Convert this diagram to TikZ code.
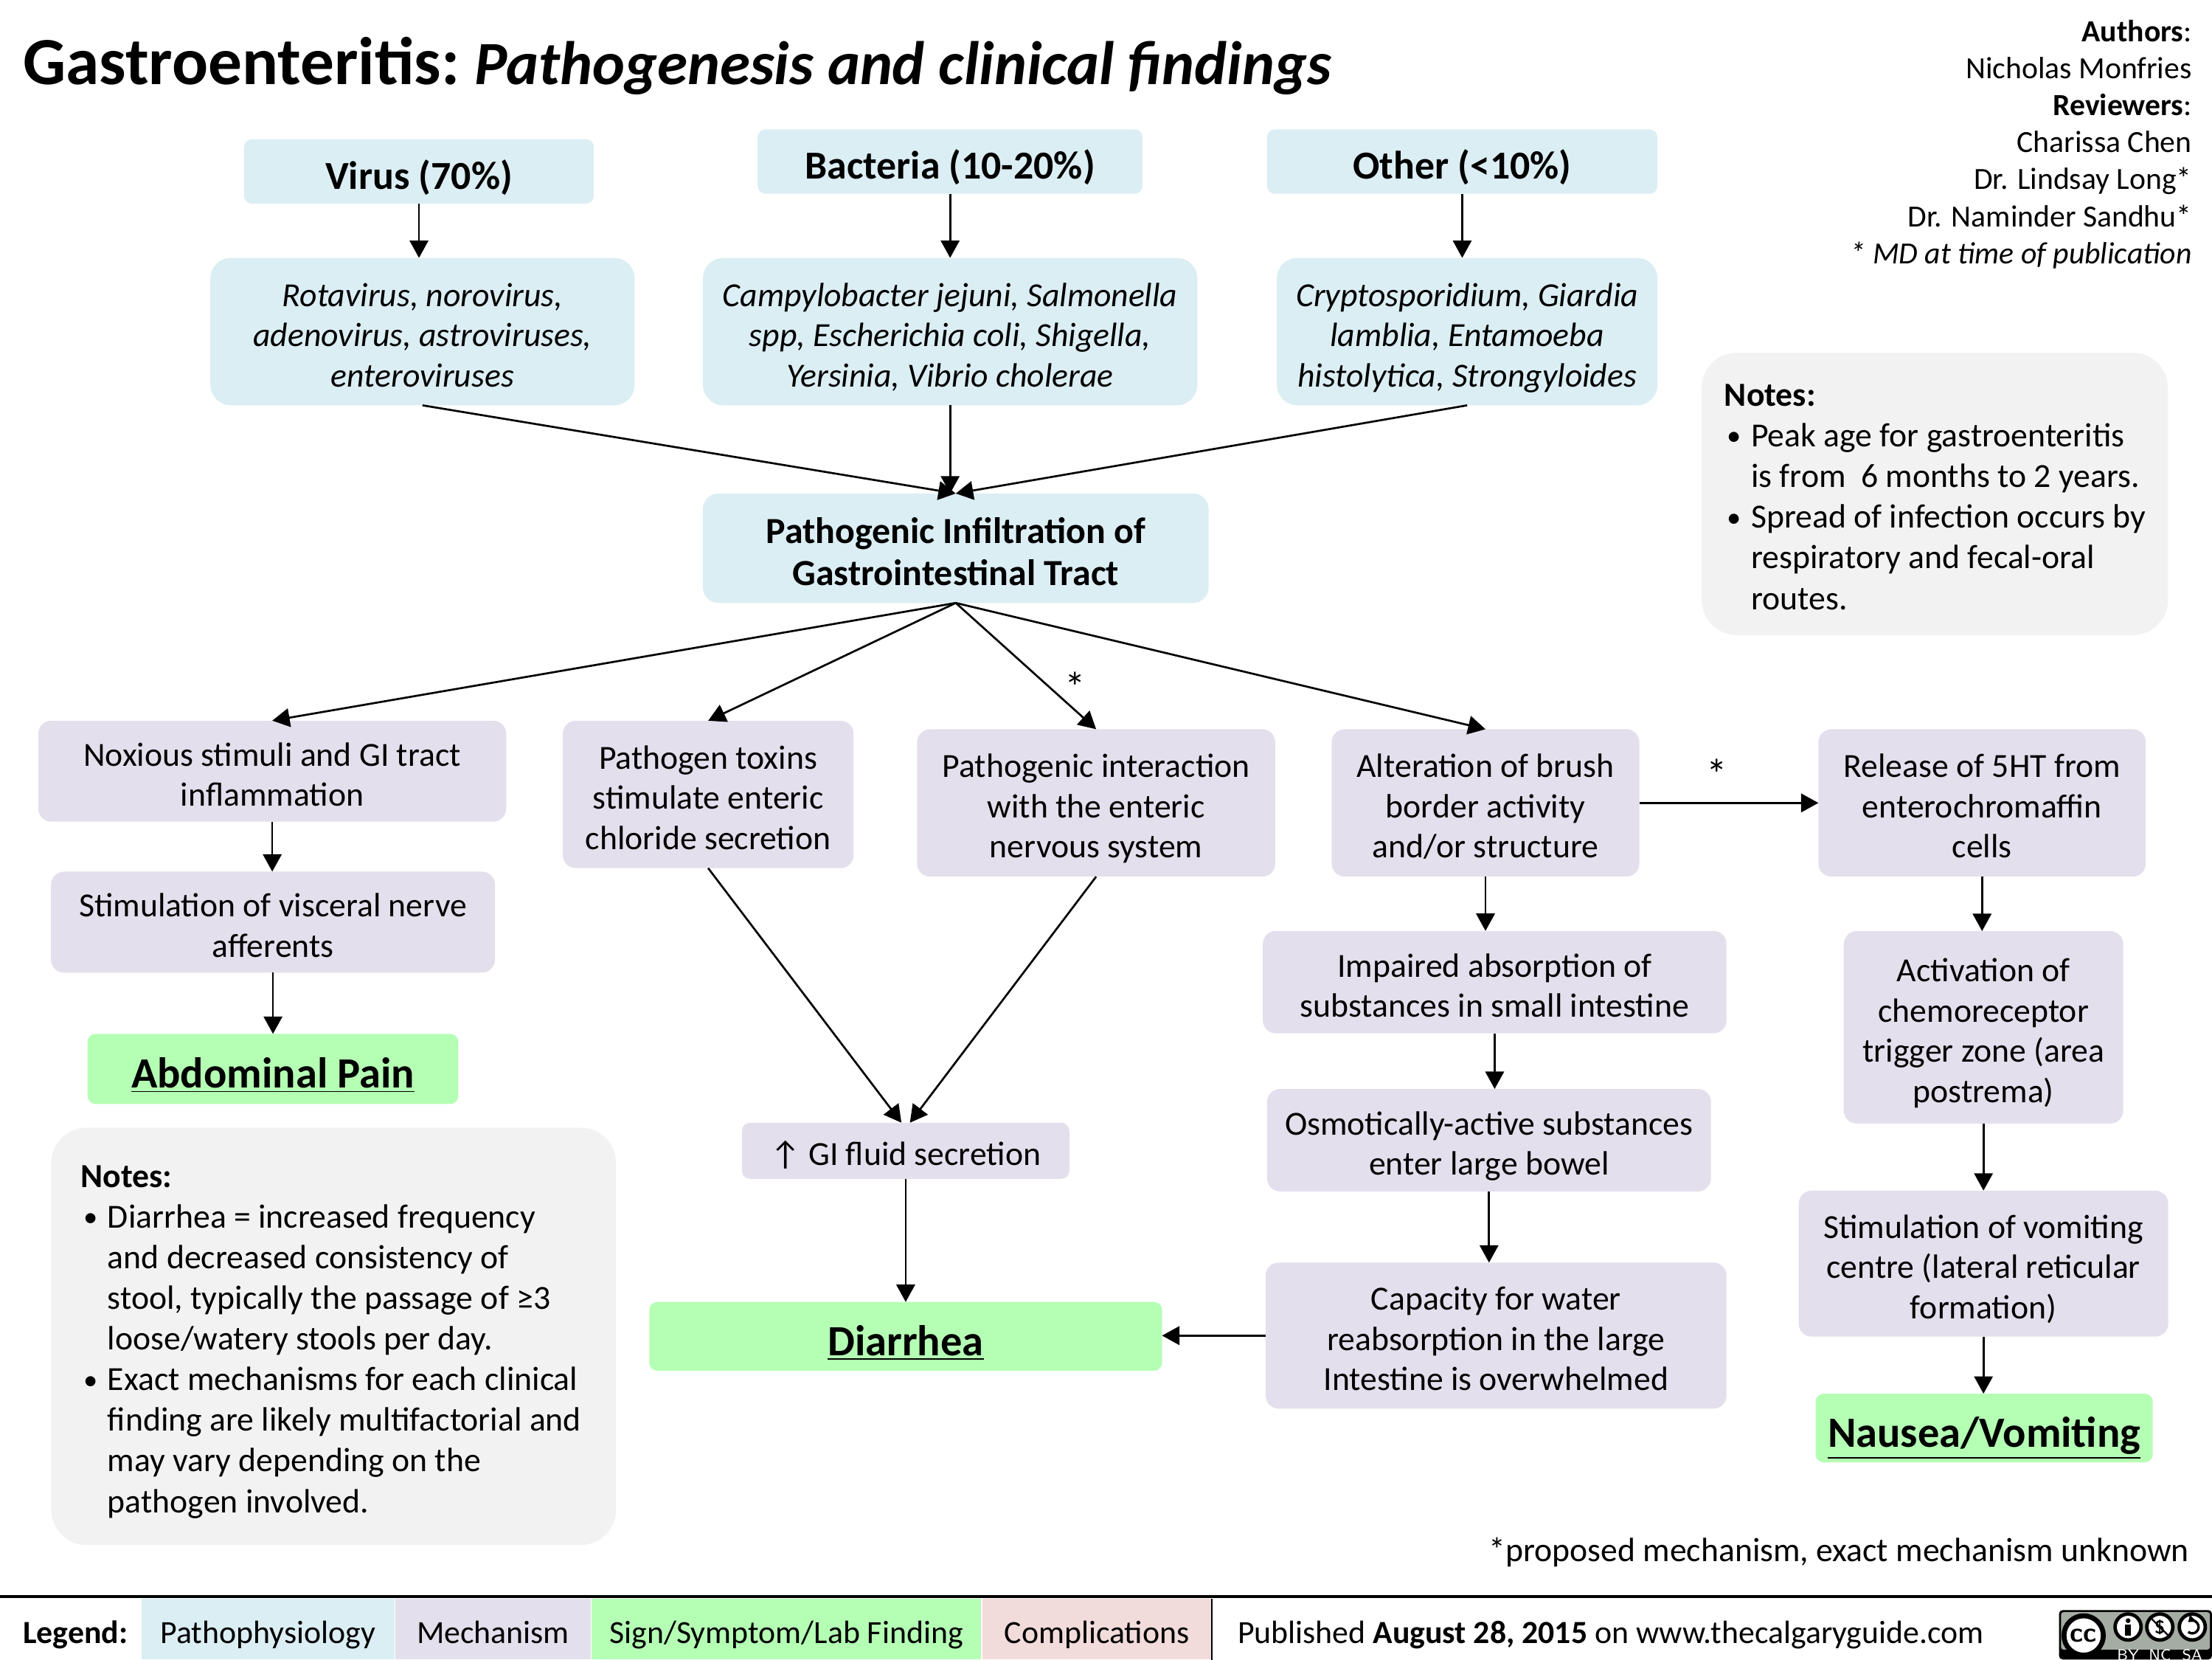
\documentclass[tikz,border=0pt]{standalone}
\usepackage{fontspec}
\setmainfont{Carlito}
\usetikzlibrary{arrows.meta,calc}

\definecolor{pathoblue}{HTML}{DBEEF4}
\definecolor{mechpurple}{HTML}{E4DFEC}
\definecolor{signgreen}{HTML}{B5FFB5}
\definecolor{compink}{HTML}{F2DCDB}
\definecolor{notegray}{HTML}{F2F2F2}
\definecolor{badgegray}{HTML}{A5ACA3}

\newcommand{\noteitem}{\makebox[10.8pt][l]{\hspace{1pt}\raisebox{0.5pt}{\fontsize{11.5}{11.5}\selectfont •}}}
\newcommand{\noteline}{\hspace*{10.8pt}}
\newcommand{\lift}{\rule{0pt}{0.88em}}

\tikzset{
  boxbase/.style={rounded corners=5pt, align=center, inner sep=0pt, line width=0.5pt, text depth=0pt, font=\fontsize{13.6}{16.2}\selectfont},
  mechbox/.style={boxbase, draw=mechpurple, fill=mechpurple},
  signbox/.style={boxbase, draw=signgreen, fill=signgreen, rounded corners=3pt, font=\fontsize{17.4}{20}\selectfont\bfseries},
  headbox/.style={boxbase, draw=pathoblue, fill=pathoblue, rounded corners=3pt, font=\fontsize{16}{19}\selectfont\bfseries},
  listbox/.style={boxbase, draw=pathoblue, fill=pathoblue, rounded corners=8pt, font=\fontsize{13.6}{16.2}\selectfont\itshape},
  infilbox/.style={boxbase, draw=pathoblue, fill=pathoblue, rounded corners=6pt, font=\fontsize{14.85}{17}\selectfont\bfseries},
  notebox/.style={draw=notegray, line width=0.5pt, fill=notegray, rounded corners=14pt, inner sep=0pt},
  legendbox/.style={inner sep=0pt, text depth=0pt, font=\fontsize{13.03}{16}\selectfont},
  plaintext/.style={inner sep=0pt, font=\fontsize{13.6}{16.4}\selectfont},
  badgering/.style={circle, draw=black, fill=white, line width=1.4pt, inner sep=0pt, minimum size=10.5pt, font=\fontsize{6.5}{6.5}\selectfont\bfseries\sffamily},
  badgetext/.style={text=white, inner sep=0pt, font=\fontsize{6.2}{6.2}\selectfont\sffamily},
  flowarrow/.style={-{Triangle[length=7pt,width=7.5pt]}, line width=0.8pt},
}

\begin{document}
\begin{tikzpicture}[x=0.02cm,y=-0.02cm]
  \useasboundingbox (0,0) rectangle (1568,1176);

  % title and credits
  \node[plaintext, anchor=base west, font=\fontsize{27.2}{30}\selectfont] (title) at (16,60) {\textbf{Gastroenteritis:}\hspace{6pt}{\fontsize{24.8}{30}\selectfont\textbf{\textit{Pathogenesis and clinical findings}}}};
  \node[plaintext, anchor=north east, align=right, font=\fontsize{12.4}{14.9}\selectfont] (credits) at (1554,14) {\textbf{Authors}:\\Nicholas Monfries\\\textbf{Reviewers}:\\Charissa Chen\\Dr. Lindsay Long*\\Dr. Naminder Sandhu*\\\textit{* MD at time of publication}};

  % causes
  \node[headbox, minimum width=248*0.567pt, minimum height=45*0.567pt] (virus) at (297,121.5) {\lift Virus (70\%)};
  \node[headbox, minimum width=273*0.567pt, minimum height=45*0.567pt] (bacteria) at (673.5,114.5) {\lift Bacteria (10-20\%)};
  \node[headbox, minimum width=277*0.567pt, minimum height=45*0.567pt] (other) at (1036.5,114.5) {\lift Other (<10\%)};
  \node[listbox, minimum width=301*0.567pt, minimum height=104*0.567pt] (viruslist) at (299.5,235) {\lift Rotavirus, norovirus,\\adenovirus, astroviruses,\\enteroviruses};
  \node[listbox, minimum width=351*0.567pt, minimum height=104*0.567pt] (bacterialist) at (673.5,235) {\lift Campylobacter jejuni, Salmonella\\spp, Escherichia coli, Shigella,\\Yersinia, Vibrio cholerae};
  \node[listbox, minimum width=270*0.567pt, minimum height=104*0.567pt] (otherlist) at (1040,235) {\lift Cryptosporidium, Giardia\\lamblia, Entamoeba\\histolytica, Strongyloides};
  \node[infilbox, minimum width=359*0.567pt, minimum height=77*0.567pt] (infiltration) at (677.5,388.5) {\lift Pathogenic Infiltration of\\Gastrointestinal Tract};

  % left column
  \node[mechbox, minimum width=332*0.567pt, minimum height=71*0.567pt] (noxious) at (193,546.5) {\lift Noxious stimuli and GI tract\\inflammation};
  \node[mechbox, minimum width=315*0.567pt, minimum height=71*0.567pt] (visceral) at (193.5,653.5) {\lift Stimulation of visceral nerve\\afferents};
  \node[signbox, minimum width=263*0.567pt, minimum height=49*0.567pt] (pain) at (193.5,757.5) {\lift\underline{Abdominal Pain}};

  % middle columns
  \node[mechbox, minimum width=206*0.567pt, minimum height=104*0.567pt] (toxins) at (502,563) {\lift Pathogen toxins\\stimulate enteric\\chloride secretion};
  \node[mechbox, minimum width=254*0.567pt, minimum height=104*0.567pt] (interaction) at (777,569) {\lift Pathogenic interaction\\with the enteric\\nervous system};
  \node[mechbox, rounded corners=3pt, minimum width=232*0.567pt, minimum height=39*0.567pt] (secretion) at (642,815.5) {\lift ↑ GI fluid secretion};
  \node[signbox, minimum width=364*0.567pt, minimum height=48*0.567pt] (diarrhea) at (642,947) {\lift\underline{Diarrhea}};

  % brush border column
  \node[mechbox, minimum width=218*0.567pt, minimum height=104*0.567pt] (brush) at (1053,569) {\lift Alteration of brush\\border activity\\and/or structure};
  \node[mechbox, minimum width=329*0.567pt, minimum height=72*0.567pt] (impaired) at (1059.5,696) {\lift Impaired absorption of\\substances in small intestine};
  \node[mechbox, minimum width=315*0.567pt, minimum height=72*0.567pt] (osmotic) at (1055.5,808) {\lift Osmotically-active substances\\enter large bowel};
  \node[mechbox, minimum width=327*0.567pt, minimum height=103*0.567pt] (capacity) at (1060.5,946.5) {\lift Capacity for water\\reabsorption in the large\\Intestine is overwhelmed};

  % vomiting column
  \node[mechbox, minimum width=232*0.567pt, minimum height=104*0.567pt] (release) at (1405,569) {\lift Release of 5HT from\\enterochromaffin\\cells};
  \node[mechbox, minimum width=198*0.567pt, minimum height=136*0.567pt] (chemo) at (1406,728) {\lift Activation of\\chemoreceptor\\trigger zone (area\\postrema)};
  \node[mechbox, minimum width=262*0.567pt, minimum height=103*0.567pt] (centre) at (1406,895.5) {\lift Stimulation of vomiting\\centre (lateral reticular\\formation)};
  \node[signbox, minimum width=239*0.567pt, minimum height=48*0.567pt] (nausea) at (1406.5,1012) {\lift\underline{Nausea/Vomiting}};

  % notes
  \node[notebox, minimum width=331*0.567pt, minimum height=200*0.567pt] (notesright) at (1371.5,350) {};
  \node[plaintext, anchor=north west, align=left] (notesrighttext) at (1222,272) {\textbf{Notes:}\\
    \noteitem Peak age for gastroenteritis\\\noteline is from\ \ 6 months to 2 years.\\
    \noteitem Spread of infection occurs by\\\noteline respiratory and fecal-oral\\\noteline routes.};
  \node[notebox, minimum width=401*0.567pt, minimum height=296*0.567pt] (notesleft) at (236.5,947) {};
  \node[plaintext, anchor=north west, align=left] (noteslefttext) at (57,825.5) {\textbf{Notes:}\\
    \noteitem Diarrhea = increased frequency\\\noteline and decreased consistency of\\\noteline stool, typically the passage of ≥3\\\noteline loose/watery stools per day.\\
    \noteitem Exact mechanisms for each clinical\\\noteline finding are likely multifactorial and\\\noteline may vary depending on the\\\noteline pathogen involved.};

  % marks
  \node[plaintext, font=\fontsize{17}{17}\selectfont] (starleft) at (762,487) {*};
  \node[plaintext, font=\fontsize{17}{17}\selectfont] (starright) at (1217,548.5) {*};
  \node[plaintext, anchor=east] (proposed) at (1552,1100) {*proposed mechanism, exact mechanism unknown};

  % arrows
  \draw[flowarrow] (virus.south) -- (virus.south |- viruslist.north);
  \draw[flowarrow] (bacteria.south) -- (bacteria.south |- bacterialist.north);
  \draw[flowarrow] (other.south) -- (other.south |- otherlist.north);
  \draw[flowarrow] (viruslist.south) -- (infiltration.north);
  \draw[flowarrow] (bacterialist.south) -- (bacterialist.south |- infiltration.north);
  \draw[flowarrow] (otherlist.south) -- (infiltration.north);
  \draw[flowarrow] (infiltration.south) -- (noxious.north);
  \draw[flowarrow] (infiltration.south) -- (toxins.north);
  \draw[flowarrow] (infiltration.south) -- (interaction.north);
  \draw[flowarrow] (infiltration.south) -- (brush.north);
  \draw[flowarrow] (noxious.south) -- (noxious.south |- visceral.north);
  \draw[flowarrow] (visceral.south) -- (pain.north);
  \draw[flowarrow] (toxins.south) -- ($(secretion.north)+(-3,0)$);
  \draw[flowarrow] (interaction.south) -- ($(secretion.north)+(3,0)$);
  \draw[flowarrow] (secretion.south) -- (diarrhea.north);
  \draw[flowarrow] (capacity.west) -- (capacity.west -| diarrhea.east);
  \draw[flowarrow] (brush.east) -- (release.west);
  \draw[flowarrow] (brush.south) -- (brush.south |- impaired.north);
  \draw[flowarrow] (impaired.south) -- (impaired.south |- osmotic.north);
  \draw[flowarrow] (osmotic.south) -- (osmotic.south |- capacity.north);
  \draw[flowarrow] (release.south) -- (release.south |- chemo.north);
  \draw[flowarrow] (chemo.south) -- (chemo.south |- centre.north);
  \draw[flowarrow] (centre.south) -- (centre.south |- nausea.north);

  % legend
  \node[legendbox, fill=pathoblue, minimum width=180*0.567pt, minimum height=43*0.567pt] (legendpatho) at (190,1154.5) {\lift Pathophysiology};
  \node[legendbox, fill=mechpurple, minimum width=139*0.567pt, minimum height=43*0.567pt] (legendmech) at (349.5,1154.5) {\lift Mechanism};
  \node[legendbox, fill=signgreen, minimum width=277*0.567pt, minimum height=43*0.567pt] (legendsign) at (557.5,1154.5) {\lift Sign/Symptom/Lab Finding};
  \node[legendbox, fill=compink, minimum width=163*0.567pt, minimum height=43*0.567pt] (legendcomp) at (777.5,1154.5) {\lift Complications};
  \node[legendbox, anchor=west] (legendlabel) at (16,1154.5) {\lift\textbf{Legend:}};
  \node[legendbox, anchor=west] (published) at (877,1154.5) {\lift Published \textbf{August 28, 2015} on www.thecalgaryguide.com};
  \coordinate (ruleleft) at (0,1131.5);
  \coordinate (ruleright) at (1568,1131.5);
  \draw[line width=1pt] (ruleleft) -- (ruleright);
  \draw[line width=0.7pt] (legendcomp.north east) -- (legendcomp.south east);

  % licence badge
  \fill[black, rounded corners=1.5pt] (1459.5,1141) rectangle (1568,1176);
  \fill[badgegray, rounded corners=1pt] (1461,1142.5) rectangle (1566.5,1169);
  \node[badgering, minimum size=28*0.567pt, line width=2pt, font=\fontsize{11}{11}\selectfont\bfseries\sffamily] (badgecc) at (1477,1159) {cc};
  \node[badgering] (badgeby) at (1508.5,1153) {};
  \node[badgering, font=\fontsize{7.5}{7.5}\selectfont\bfseries\sffamily] (badgenc) at (1531,1153) {\$};
  \node[badgering] (badgesa) at (1554,1153) {};
  \fill[black] (1508.5,1148.5) circle (1.7);
  \fill[black] (1506.3,1151.5) rectangle (1510.7,1159);
  \draw[line width=0.7pt] (badgenc.north west) -- (badgenc.south east);
  \draw[{Triangle[length=2.5pt,width=3.5pt]}-, line width=1pt] (1551.1,1149.55) arc (-130:130:4.5);
  \node[badgetext] (badgebytext) at (1508.5,1173) {BY};
  \node[badgetext] (badgenctext) at (1531,1173) {NC};
  \node[badgetext] (badgesatext) at (1554,1173) {SA};
\end{tikzpicture}
\end{document}
